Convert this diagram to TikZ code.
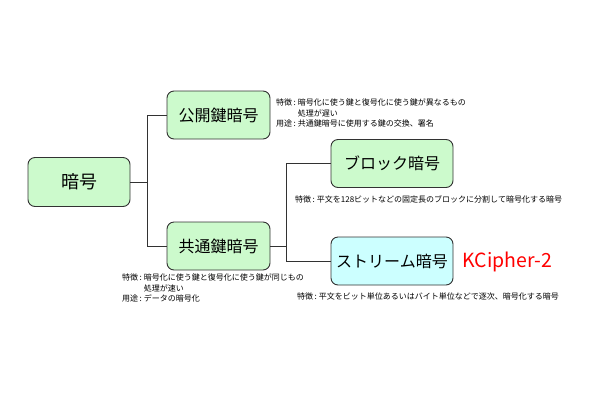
\documentclass[tikz,border=0pt]{standalone}
\usepackage{fontspec}
\setmainfont{Noto Sans CJK JP}
\usepackage{tikz}
\usetikzlibrary{shapes, arrows}
\definecolor{boxgreen}{RGB}{204,250,204}
\definecolor{boxcyan}{RGB}{204,255,255}
\definecolor{boxline}{RGB}{50,50,50}
\newcommand{\tokucho}{特徴\kern1.5pt:\kern2pt}
\newcommand{\yoto}{用途\kern1.5pt:\kern2pt}
\tikzstyle{cipher} = [rectangle, rounded corners=7pt, minimum width=103pt, minimum height=48pt, text centered, draw=boxline, line width=0.9pt, fill=boxgreen, font=\fontsize{16}{18}\selectfont]
\tikzstyle{subcipher} = [cipher, minimum width=122pt]
\tikzstyle{note} = [anchor=north west, inner sep=0pt, font=\fontsize{8}{10.5}\selectfont]
\tikzstyle{link} = [line width=0.9pt, draw=boxline]

\begin{document}
\begin{tikzpicture}[x=1pt, y=-1pt]
    \useasboundingbox (0,0) rectangle (610,400);
    % Nodes
    \node (root) [cipher, minimum width=102pt, minimum height=49pt, font=\fontsize{18}{20}\selectfont] at (79,182) {暗号};
    \node (pub) [cipher] at (218.5,115) {公開鍵暗号};
    \node (sym) [cipher] at (218.5,246) {共通鍵暗号};
    \node (block) [subcipher] at (392,163.5) {ブロック暗号};
    \node (stream) [subcipher, fill=boxcyan] at (392,261) {ストリーム暗号};
    \node (kc) [anchor=west, text=red, font=\fontsize{19.5}{21}\selectfont] at (459,262) {KCipher-2};

    % Notes
    \node (pubnote) [note] at (276,98) {\begin{tabular}{@{}l@{}l@{}}\tokucho&暗号化に使う鍵と復号化に使う鍵が異なるもの\\ &処理が遅い\\ \yoto&共通鍵暗号に使用する鍵の交換、署名\end{tabular}};
    \node (symnote) [note] at (122,273) {\begin{tabular}{@{}l@{}l@{}}\tokucho&暗号化に使う鍵と復号化に使う鍵が同じもの\\ &処理が速い\\ \yoto&データの暗号化\end{tabular}};
    \node (blocknote) [note] at (295,195) {\tokucho 平文を128ビットなどの固定長のブロックに分割して暗号化する暗号};
    \node (streamnote) [note] at (297,293) {\tokucho 平文をビット単位あるいはバイト単位などで逐次、暗号化する暗号};

    % Lines
    \draw [link] (root.east) -- ++(17,0) coordinate (rootfork);
    \draw [link] (rootfork) |- (pub.west);
    \draw [link] (rootfork) |- (sym.west);
    \draw [link] (sym.east) -- ++(16,0) coordinate (symfork);
    \draw [link] (symfork) |- (block.west);
    \draw [link] (symfork) |- (stream.west);

\end{tikzpicture}
\end{document}
